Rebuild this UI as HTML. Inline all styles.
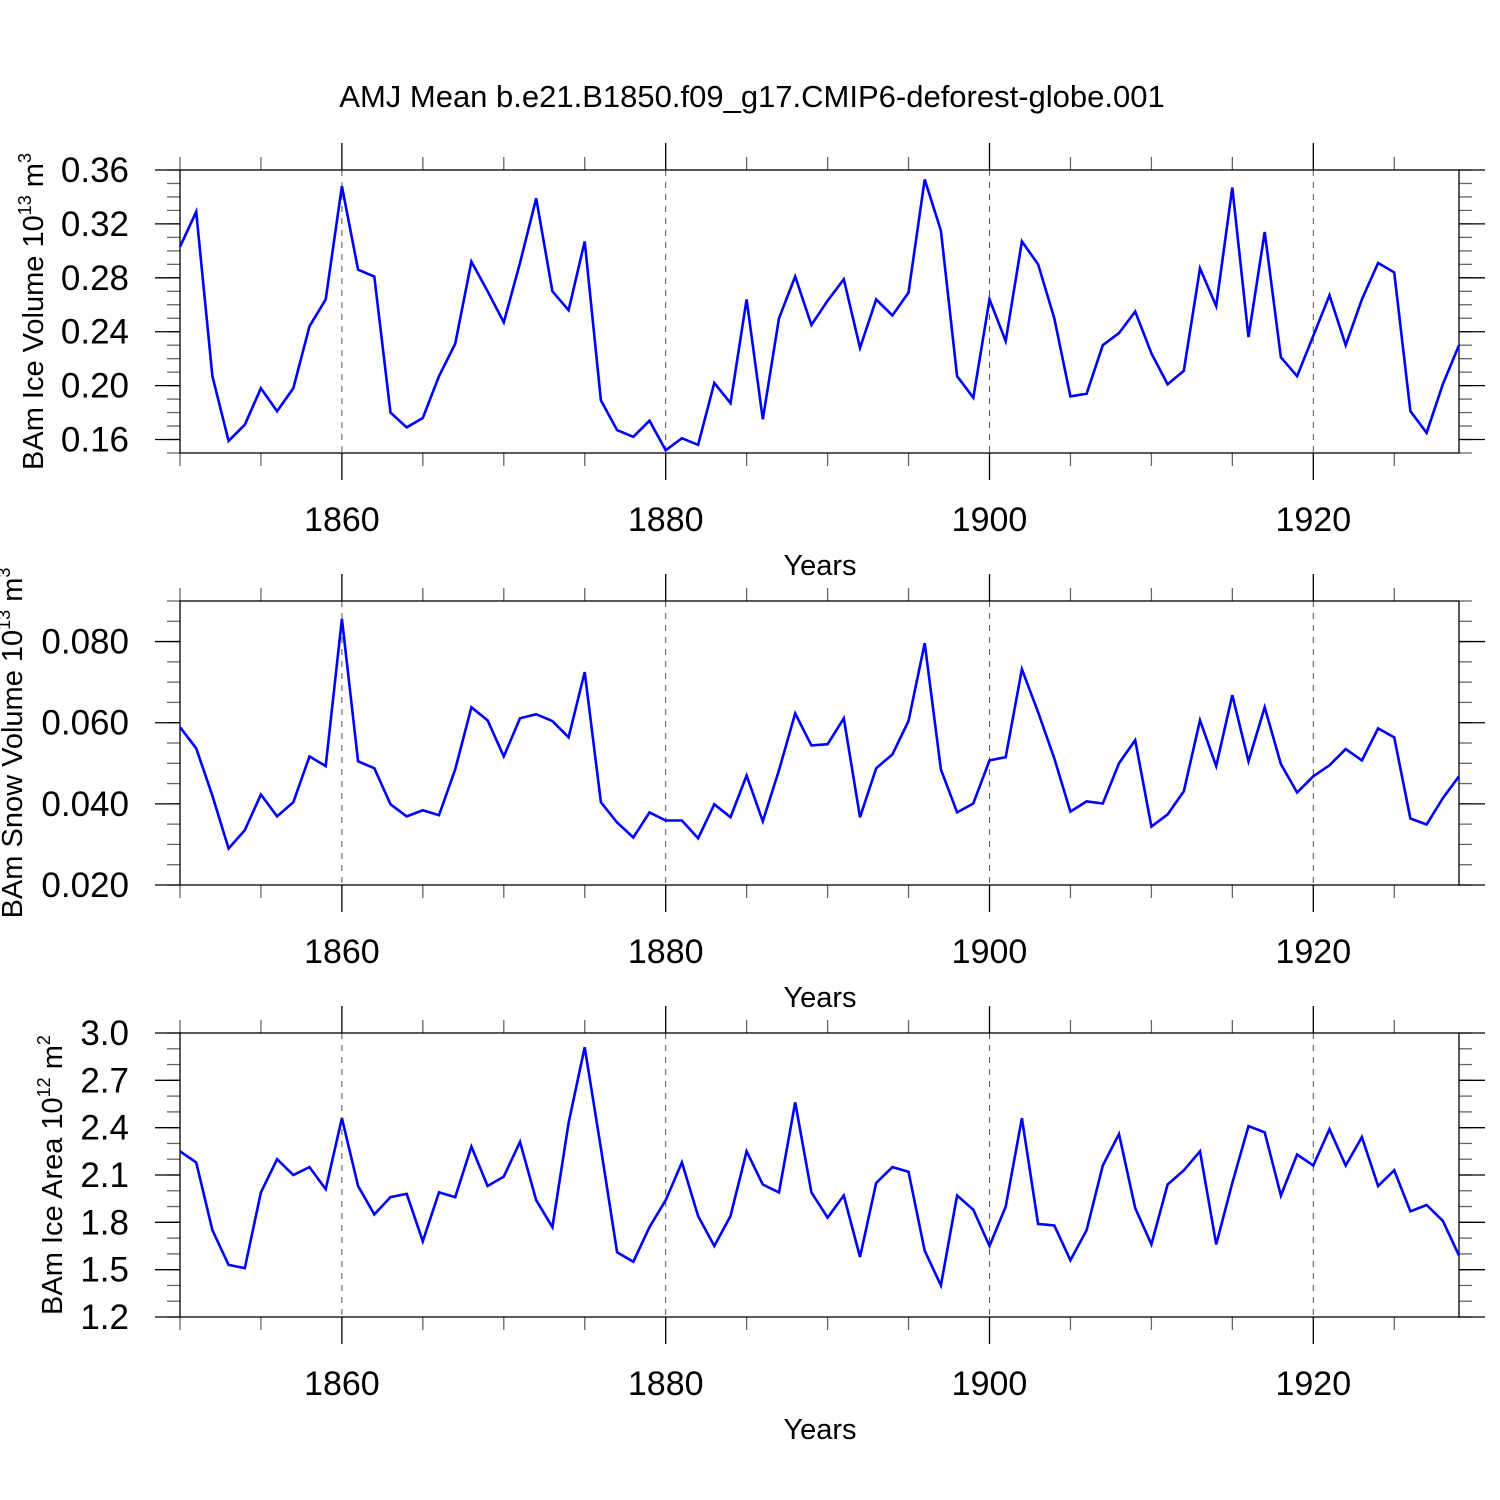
<!DOCTYPE html>
<html><head><meta charset="utf-8"><style>
html,body{margin:0;padding:0;background:#fff;}
svg{display:block;font-family:"Liberation Sans",sans-serif;}
</style></head><body>
<svg id="chart" width="1500" height="1500" viewBox="0 0 1500 1500">
<text x="752" y="107" font-size="31" text-anchor="middle">AMJ Mean b.e21.B1850.f09_g17.CMIP6-deforest-globe.001</text>
</svg>
<script>
const years = [];
for (let y = 1850; y <= 1929; y++) years.push(y);
const iceVolume = [0.303,0.329,0.207,0.159,0.171,0.198,0.181,0.198,0.244,0.264,0.348,0.286,0.281,0.180,0.169,0.176,0.207,0.231,0.292,0.270,0.247,0.291,0.339,0.270,0.256,0.307,0.189,0.167,0.162,0.174,0.152,0.161,0.156,0.202,0.187,0.264,0.175,0.250,0.281,0.245,0.263,0.279,0.228,0.264,0.252,0.269,0.353,0.315,0.207,0.191,0.264,0.233,0.307,0.290,0.250,0.192,0.194,0.230,0.239,0.255,0.224,0.201,0.211,0.287,0.259,0.347,0.236,0.314,0.221,0.207,0.237,0.267,0.230,0.264,0.291,0.284,0.181,0.165,0.201,0.230];
const snowVolume = [0.0589,0.0537,0.042,0.029,0.0335,0.0423,0.0369,0.0404,0.0517,0.0493,0.0856,0.0505,0.0488,0.0399,0.0369,0.0384,0.0372,0.0485,0.0638,0.0606,0.0517,0.0611,0.0621,0.0604,0.0564,0.0725,0.0404,0.0354,0.0317,0.0379,0.0359,0.0359,0.0315,0.0399,0.0367,0.0470,0.0357,0.0483,0.0623,0.0544,0.0547,0.0611,0.0367,0.0488,0.0522,0.0604,0.0796,0.0485,0.0379,0.0401,0.0507,0.0515,0.0732,0.0626,0.0512,0.0381,0.0406,0.0401,0.0500,0.0557,0.0344,0.0374,0.0431,0.0606,0.0493,0.0668,0.0505,0.0638,0.0498,0.0428,0.0468,0.0495,0.0535,0.0507,0.0586,0.0564,0.0364,0.0349,0.0414,0.0468];
const iceArea = [2.25,2.18,1.75,1.53,1.51,1.99,2.20,2.10,2.15,2.01,2.46,2.03,1.85,1.96,1.98,1.68,1.99,1.96,2.28,2.03,2.09,2.31,1.94,1.77,2.43,2.91,2.27,1.61,1.55,1.77,1.94,2.18,1.84,1.65,1.84,2.25,2.04,1.99,2.56,1.99,1.83,1.97,1.58,2.05,2.15,2.12,1.62,1.40,1.97,1.88,1.65,1.90,2.46,1.79,1.78,1.56,1.75,2.16,2.36,1.89,1.66,2.04,2.13,2.25,1.66,2.05,2.41,2.37,1.97,2.23,2.16,2.39,2.16,2.34,2.03,2.13,1.87,1.91,1.81,1.59];
const xTickLabels = ["1860","1880","1900","1920"];
const xTickYears = [1860,1880,1900,1920];
const iceVolTicks = ["0.16","0.20","0.24","0.28","0.32","0.36"];
const snowTicks = ["0.020","0.040","0.060","0.080"];
const areaTicks = ["1.2","1.5","1.8","2.1","2.4","2.7","3.0"];

const NS = "http://www.w3.org/2000/svg";
const svg = document.getElementById("chart");
function mk(tag, attrs, parent) {
  const e = document.createElementNS(NS, tag);
  for (const k in attrs) e.setAttribute(k, attrs[k]);
  (parent || svg).appendChild(e);
  return e;
}
const X0 = 180, X1 = 1459, YR0 = 1850, YR1 = 1929;
function xScale(yr) { return X0 + (yr - YR0) / (YR1 - YR0) * (X1 - X0); }

function panel(cfg) {
  const g = mk("g", {});
  
  
  const yScale = v => cfg.bot - (v - cfg.vmin) / (cfg.vmax - cfg.vmin) * (cfg.bot - cfg.top);
  xTickYears.forEach(yr => {
    const l = mk("line", {x1: xScale(yr), x2: xScale(yr), y1: cfg.top, y2: cfg.bot, stroke: "#555", "stroke-width": 1, "stroke-dasharray": "6,6"}, g);
    
    
  });
  for (let yr = 1850; yr <= 1929; yr += 5) {
    const major = yr % 20 === 0;
    const len = major ? 27 : 13;
    const c = major ? "#000" : "#666";
    mk("line", {x1: xScale(yr), x2: xScale(yr), y1: cfg.top - len, y2: cfg.top, stroke: c, "stroke-width": 1.3}, g);
    mk("line", {x1: xScale(yr), x2: xScale(yr), y1: cfg.bot, y2: cfg.bot + len, stroke: c, "stroke-width": 1.3}, g);
  }
  xTickLabels.forEach((lab, i) => {
    const t = mk("text", {x: xScale(xTickYears[i]), y: cfg.bot + 78, "font-size": 34, "text-anchor": "middle"}, g);
    t.textContent = lab;
    
    
  });
  const xt = mk("text", {x: 820, y: cfg.bot + 122, "font-size": 29, "text-anchor": "middle"}, g);
  xt.textContent = "Years";
  
  
  for (let v = cfg.vmin; v <= cfg.vmax + 1e-9; v += cfg.minor) {
    const y = yScale(v);
    mk("line", {x1: X0 - 13, x2: X0, y1: y, y2: y, stroke: "#666", "stroke-width": 1.3}, g);
    mk("line", {x1: X1, x2: X1 + 13, y1: y, y2: y, stroke: "#666", "stroke-width": 1.3}, g);
  }
  cfg.ticks.forEach(lab => {
    const y = yScale(parseFloat(lab));
    mk("line", {x1: X0 - 25, x2: X0, y1: y, y2: y, stroke: "#000", "stroke-width": 1.3}, g);
    mk("line", {x1: X1, x2: X1 + 26, y1: y, y2: y, stroke: "#000", "stroke-width": 1.3}, g);
    const t = mk("text", {x: X0 - 51, y: y + 12, "font-size": 35, "text-anchor": "end"}, g);
    t.textContent = lab;
    
    
  });
  const fr = mk("rect", {x: X0, y: cfg.top, width: X1 - X0, height: cfg.bot - cfg.top, fill: "none", stroke: "#000", "stroke-width": 1.3}, g);
  
  
  const pts = cfg.data.map((v, i) => xScale(years[i]).toFixed(1) + "," + yScale(v).toFixed(1)).join(" ");
  const pl = mk("polyline", {points: pts, fill: "none", stroke: "#0000ff", "stroke-width": 2.6, "stroke-linejoin": "miter"}, g);
  
  
  const yt = mk("text", {transform: `translate(${cfg.ytx},${(cfg.top + cfg.bot) / 2}) rotate(-90)`, "font-size": 29, "text-anchor": "middle"}, g);
  
  
  yt.innerHTML = cfg.ytitle;
}

panel({name: "ice-volume-panel", top: 170, bot: 453, vmin: 0.15, vmax: 0.36, minor: 0.01, ticks: iceVolTicks, data: iceVolume, ytx: 43,
  ytitle: 'BAm Ice Volume 10<tspan font-size="18" dy="-12">13</tspan><tspan dy="12"> m</tspan><tspan font-size="18" dy="-12">3</tspan>'});
panel({name: "snow-volume-panel", top: 601, bot: 885, vmin: 0.02, vmax: 0.09, minor: 0.005, ticks: snowTicks, data: snowVolume, ytx: 22,
  ytitle: 'BAm Snow Volume 10<tspan font-size="18" dy="-12">13</tspan><tspan dy="12"> m</tspan><tspan font-size="18" dy="-12">3</tspan>'});
panel({name: "ice-area-panel", top: 1033, bot: 1317, vmin: 1.2, vmax: 3.0, minor: 0.1, ticks: areaTicks, data: iceArea, ytx: 62,
  ytitle: 'BAm Ice Area 10<tspan font-size="18" dy="-12">12</tspan><tspan dy="12"> m</tspan><tspan font-size="18" dy="-12">2</tspan>'});
</script>
</body></html>
